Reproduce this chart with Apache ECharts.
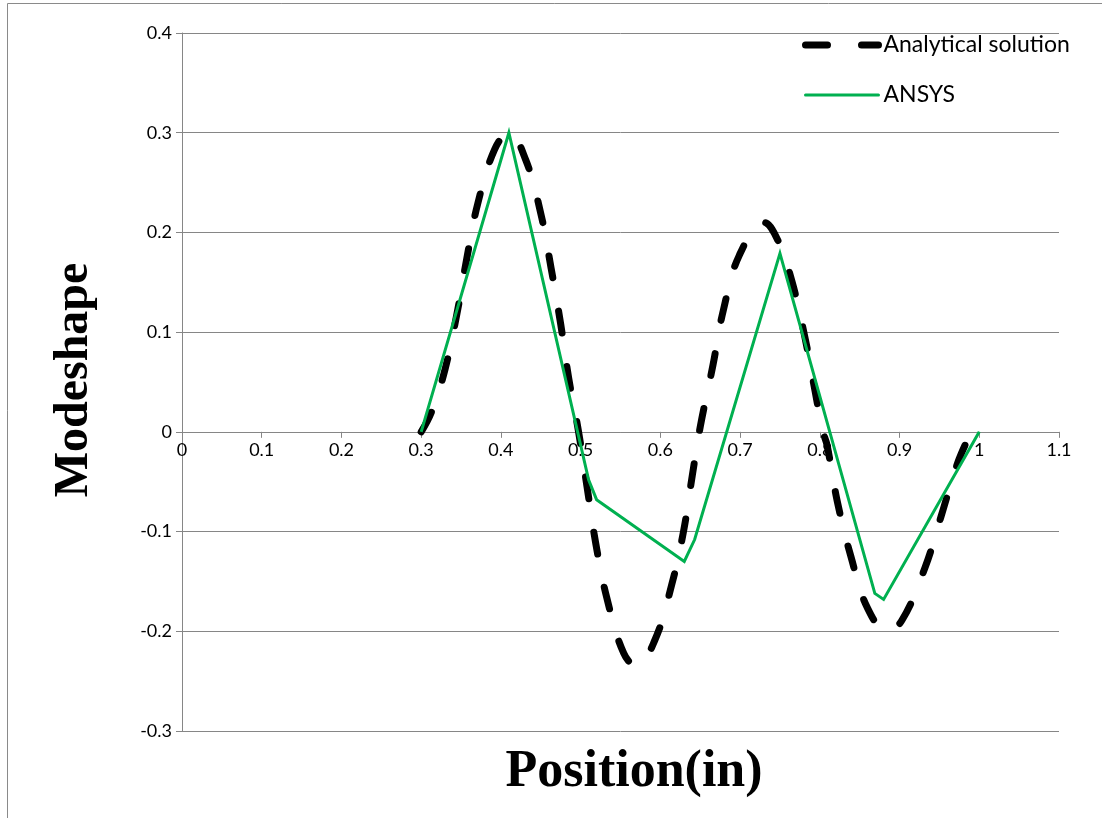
<!DOCTYPE html>
<html>
<head>
<meta charset="utf-8">
<title>Modeshape vs Position</title>
<script src="https://cdn.jsdelivr.net/npm/echarts@6/dist/echarts.min.js"></script>
<style>
  html, body { margin: 0; padding: 0; background: #fff; }
  #chart { width: 1102px; height: 818px; }
</style>
</head>
<body>
<div id="chart"></div>
<script>
// Analytical mode shape, sampled along the span (position in, modeshape)
const analyticalX = [0.300, 0.313, 0.330, 0.345, 0.357, 0.371, 0.392, 0.410, 0.431, 0.450,
                     0.463, 0.475, 0.485, 0.497, 0.508, 0.519, 0.533, 0.554, 0.570, 0.593,
                     0.614, 0.629, 0.640, 0.650, 0.666, 0.679, 0.699, 0.730, 0.748, 0.765,
                     0.781, 0.794, 0.804, 0.809, 0.822, 0.839, 0.860, 0.885, 0.903, 0.932,
                     0.952, 0.973, 0.990];
const analyticalY = [0.000, 0.020, 0.063, 0.119, 0.173, 0.229, 0.283, 0.300, 0.273, 0.219,
                     0.164, 0.108, 0.054, 0.002, -0.055, -0.112, -0.167, -0.222, -0.235, -0.209,
                     -0.154, -0.100, -0.044, 0.005, 0.067, 0.122, 0.177, 0.210, 0.191, 0.151,
                     0.096, 0.041, 0.000, -0.013, -0.070, -0.125, -0.177, -0.200, -0.189, -0.136,
                     -0.085, -0.031, 0.000];

// ANSYS nodal results
const ansysX = [0.30, 0.41, 0.51, 0.52, 0.63, 0.643, 0.75, 0.869, 0.88, 1.00];
const ansysY = [0.000, 0.300, -0.048, -0.068, -0.130, -0.108, 0.179, -0.162, -0.168, 0.000];

const seriesNames = ['Analytical solution', 'ANSYS'];
const xTitle = 'Position(in)';
const yTitle = 'Modeshape';
const xRange = [0, 1.1];
const yRange = [-0.3, 0.4];

const zip = (xs, ys) => xs.map((x, i) => [x, ys[i]]);
const tickFmt = v => String(+v.toFixed(1));

const labelFont = 'Lato, "Open Sans", sans-serif';
const axisGray = '#868686';

const chart = echarts.init(document.getElementById('chart'), null, { renderer: 'canvas' });

chart.setOption({
  animation: false,
  backgroundColor: '#ffffff',
  grid: { left: 182, right: 43, top: 33, bottom: 87, containLabel: false },
  legend: {
    orient: 'vertical',
    left: 802,
    top: 32,
    padding: 0,
    itemWidth: 73,
    itemHeight: 14,
    itemGap: 24,
    itemStyle: { opacity: 0 },
    lineStyle: { width: 'inherit', type: 'inherit', cap: 'round' },
    textStyle: { fontFamily: labelFont, fontSize: 23, lineHeight: 26, color: '#000' },
    data: seriesNames
  },
  xAxis: {
    type: 'value',
    min: xRange[0],
    max: xRange[1],
    interval: 0.1,
    axisLine: { onZero: false, lineStyle: { color: axisGray, width: 1 } },
    axisTick: { show: true, inside: false, length: 6, lineStyle: { color: axisGray } },
    axisLabel: { formatter: tickFmt, margin: 9, fontFamily: labelFont, fontSize: 18, color: '#000' },
    splitLine: { show: false }
  },
  yAxis: {
    type: 'value',
    min: yRange[0],
    max: yRange[1],
    interval: 0.1,
    axisLine: { show: true, onZero: false, lineStyle: { color: axisGray, width: 1 } },
    axisTick: { show: true, inside: false, length: 6, lineStyle: { color: axisGray } },
    axisLabel: { formatter: tickFmt, margin: 10, fontFamily: labelFont, fontSize: 18, color: '#000' },
    splitLine: { show: true, lineStyle: { color: axisGray, width: 1 } }
  },
  series: [
    {
      name: seriesNames[0],
      type: 'line',
      data: zip(analyticalX, analyticalY),
      smooth: 0.4,
      symbol: 'none',
      color: '#000000',
      lineStyle: { color: '#000000', width: 7, type: [22, 34], cap: 'round', join: 'round' },
      z: 2
    },
    {
      name: seriesNames[1],
      type: 'line',
      data: zip(ansysX, ansysY),
      smooth: false,
      symbol: 'none',
      color: '#00b050',
      lineStyle: { color: '#00b050', width: 3, join: 'miter' },
      z: 3
    }
  ],
  graphic: [
    {
      type: 'polyline',
      shape: { points: [[7.5, 818], [7.5, 3.5], [1102, 3.5]] },
      style: { stroke: '#8a8a8a', lineWidth: 1, fill: null },
      silent: true
    },
    {
      type: 'text',
      x: 75,
      y: 380,
      rotation: Math.PI / 2,
      style: {
        text: yTitle,
        font: 'bold 48px "Liberation Serif", "Times New Roman", serif',
        fill: '#000',
        align: 'center',
        verticalAlign: 'middle'
      }
    },
    {
      type: 'text',
      x: 634,
      y: 773,
      style: {
        text: xTitle,
        font: 'bold 52px "Liberation Serif", "Times New Roman", serif',
        fill: '#000',
        align: 'center',
        verticalAlign: 'middle'
      }
    }
  ]
});

// The horizontal axis crosses the vertical one at zero: shift it up from the
// bottom of the plot by the pixel distance between y = min and y = 0.
const yZeroPx = chart.convertToPixel({ yAxisIndex: 0 }, 0);
const yMinPx = chart.convertToPixel({ yAxisIndex: 0 }, yRange[0]);
chart.setOption({ xAxis: { offset: yZeroPx - yMinPx } });
</script>
</body>
</html>
